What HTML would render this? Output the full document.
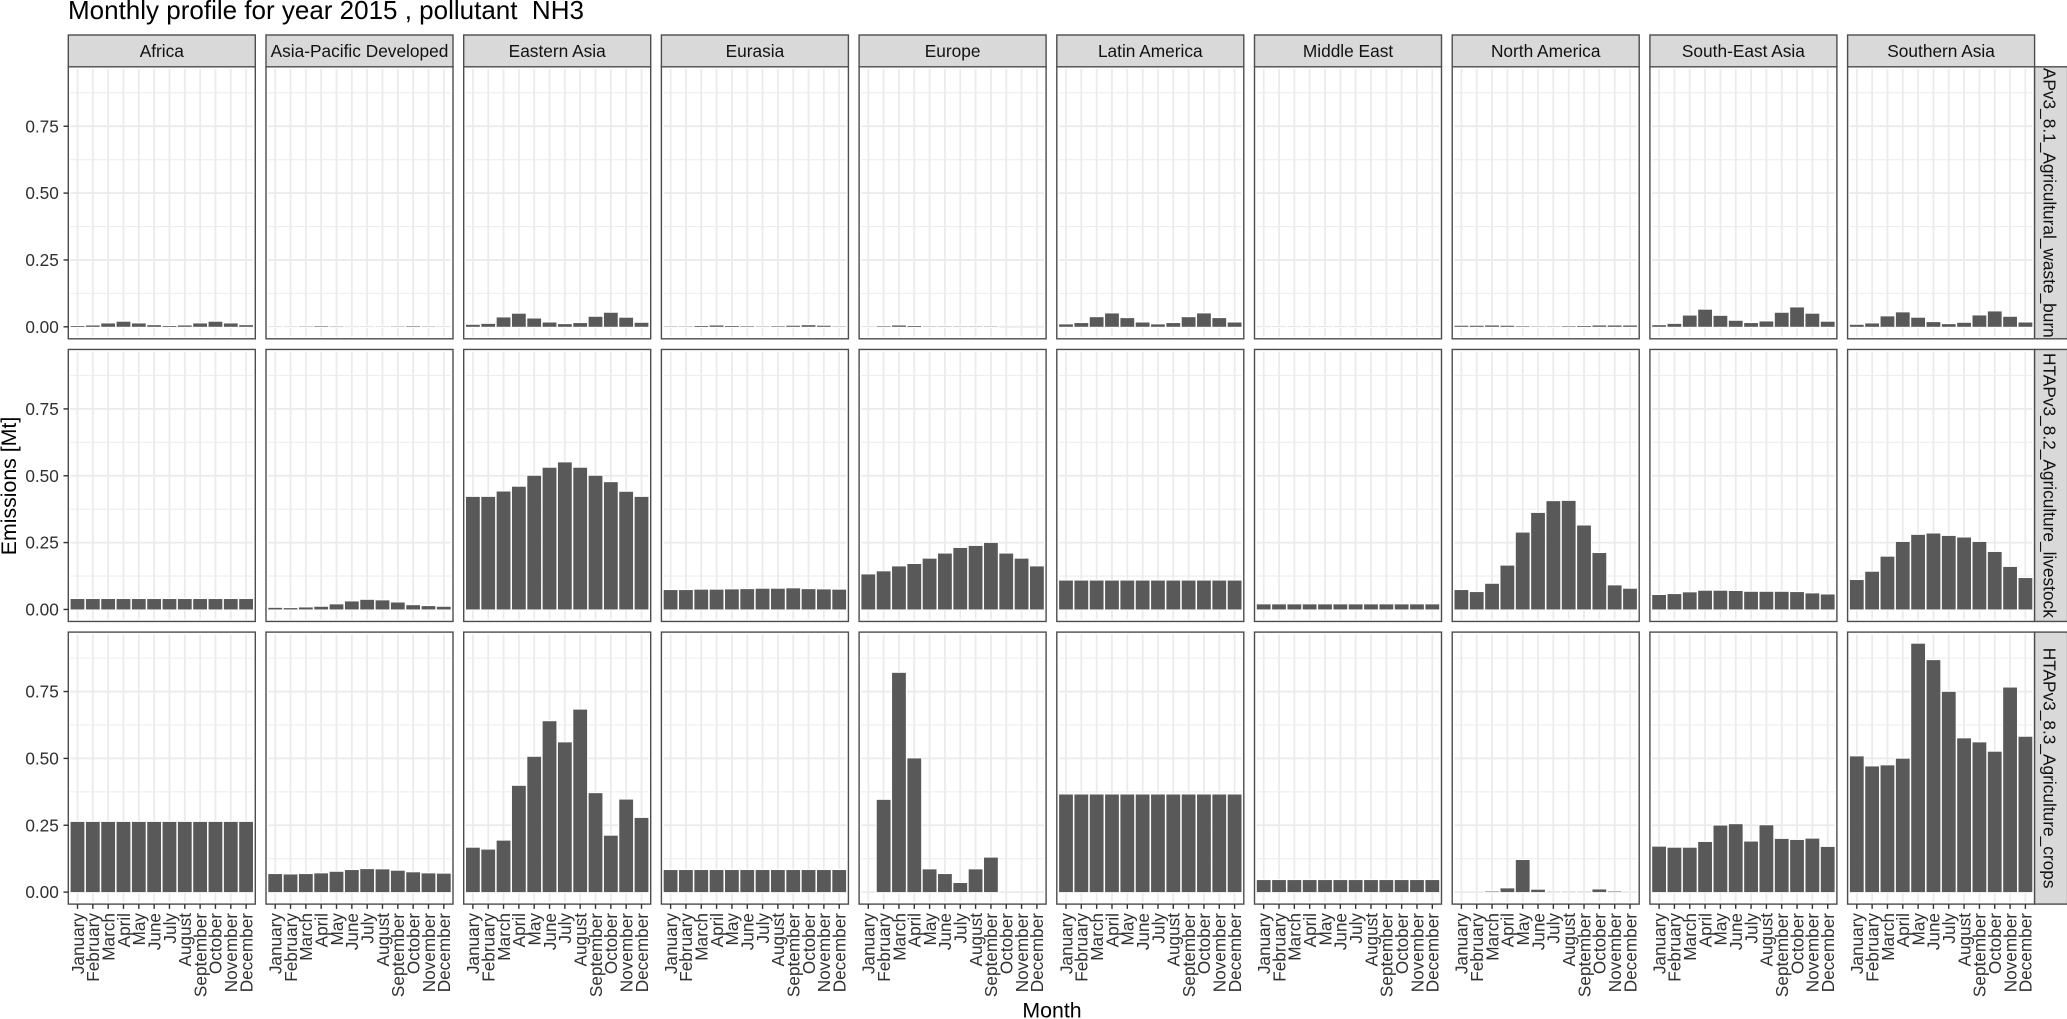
<!DOCTYPE html>
<html lang="en">
<head>
<meta charset="utf-8">
<title>Monthly profile for year 2015, pollutant NH3</title>
<style>
  html, body { margin: 0; padding: 0; background: #fff; }
  body { width: 2067px; height: 1019px; overflow: hidden; }
  svg { display: block; font-family: "Liberation Sans", sans-serif; }
  text { white-space: pre; }
</style>
</head>
<body>
<svg id="chart" xmlns="http://www.w3.org/2000/svg" width="2067" height="1019" viewBox="0 0 2067 1019">
  <rect x="0" y="0" width="2067" height="1019" fill="#ffffff"/>
  <text x="68" y="19" font-size="26" fill="#000000">Monthly profile for year 2015 , pollutant  NH3</text>
  <text transform="translate(16 486) rotate(-90)" text-anchor="middle" font-size="21.3" fill="#000000">Emissions [Mt]</text>
  <text x="1052" y="1017.5" text-anchor="middle" font-size="21.3" fill="#000000">Month</text>
  <g id="panels"></g>
</svg>
<script>
const months = ["January","February","March","April","May","June","July","August","September","October","November","December"];
const regions = ["Africa","Asia-Pacific Developed","Eastern Asia","Eurasia","Europe","Latin America","Middle East","North America","South-East Asia","Southern Asia"];
const sectors = ["APv3_8.1_Agricultural_waste_burn","HTAPv3_8.2_Agriculture_livestock","HTAPv3_8.3_Agriculture_crops"];
const yTickValues = [0, 0.25, 0.5, 0.75];
const yTickLabels = ["0.00","0.25","0.50","0.75"];
const yMinorValues = [0.125, 0.375, 0.625, 0.875];

const wasteBurn = [
  [.003,.005,.0125,.019,.0125,.006,.003,.005,.0125,.019,.0125,.006],
  [.0005,.0005,.001,.002,.001,.0005,.0005,.0005,.001,.002,.001,.0005],
  [.0075,.011,.035,.049,.031,.016,.01,.014,.0375,.0525,.034,.015],
  [.001,.001,.003,.005,.003,.002,.001,.002,.004,.006,.004,.001],
  [.0005,.002,.005,.003,.001,.001,.001,.001,.001,0,0,0],
  [.009,.014,.036,.05,.0325,.016,.009,.014,.036,.05,.0325,.016],
  [.0005,.0005,.0005,.0005,.0005,.0005,.0005,.0005,.0005,.0005,.0005,.0005],
  [.004,.004,.005,.004,.002,.001,.001,.002,.003,.005,.005,.005],
  [.006,.011,.042,.064,.041,.0225,.014,.02,.0525,.0725,.049,.019],
  [.0075,.0125,.039,.054,.034,.0175,.01,.015,.0425,.0575,.0375,.016]
];
const livestock = [
  [.039,.039,.039,.039,.039,.039,.039,.039,.039,.039,.039,.039],
  [.006,.005,.0075,.01,.019,.03,.036,.034,.026,.016,.0125,.01],
  [.421,.421,.441,.459,.5,.53,.55,.53,.5,.476,.44,.421],
  [.0725,.0725,.074,.074,.075,.076,.0775,.0775,.079,.076,.075,.074],
  [.131,.1425,.161,.17,.19,.209,.23,.2375,.249,.209,.19,.161],
  [.108,.108,.108,.108,.108,.108,.108,.108,.108,.108,.108,.108],
  [.019,.019,.019,.019,.019,.019,.019,.019,.019,.019,.019,.019],
  [.0725,.065,.096,.164,.2875,.361,.405,.406,.314,.211,.09,.0775],
  [.054,.0575,.064,.07,.07,.069,.066,.066,.066,.065,.06,.056],
  [.11,.141,.1975,.2525,.279,.284,.275,.269,.2525,.215,.159,.1175]
];
const crops = [
  [.2625,.2625,.2625,.2625,.2625,.2625,.2625,.2625,.2625,.2625,.2625,.2625],
  [.0675,.066,.0675,.07,.076,.0825,.086,.085,.08,.074,.07,.069],
  [.166,.159,.1925,.3975,.506,.639,.56,.6825,.37,.211,.346,.2775],
  [.0825,.0825,.0825,.0825,.0825,.0825,.0825,.0825,.0825,.0825,.0825,.0825],
  [0,.345,.82,.5,.085,.0675,.034,.085,.129,0,0,0],
  [.365,.365,.365,.365,.365,.365,.365,.365,.365,.365,.365,.365],
  [.045,.045,.045,.045,.045,.045,.045,.045,.045,.045,.045,.045],
  [0,0,.002,.014,.12,.009,.001,.001,.001,.01,.002,0],
  [.17,.166,.166,.1875,.249,.254,.189,.25,.199,.195,.2,.169],
  [.5075,.47,.474,.499,.929,.8675,.749,.575,.56,.525,.765,.581]
];
const sectorValues = [wasteBurn, livestock, crops];

const NS = "http://www.w3.org/2000/svg";
const root = document.getElementById("panels");
const PANEL_LEFT = 68.3, PANEL_PITCH_X = 197.7, PANEL_W = 187;
const PANEL_TOP = 66.8, PANEL_PITCH_Y = 282.65, PANEL_H = 272;
const ZERO_OFFSET = 260, UNITS_PER_PANEL_PX = 267.4;
const X_EXPAND = 0.6, BAR_WIDTH = 0.9;

function panelLeft(col) { return PANEL_LEFT + col * PANEL_PITCH_X; }
function panelTop(row) { return PANEL_TOP + row * PANEL_PITCH_Y; }
function xScale(index, col) {
  return panelLeft(col) + (index + X_EXPAND) * PANEL_W / (months.length - 1 + 2 * X_EXPAND);
}
function yScale(value, row) {
  return panelTop(row) + ZERO_OFFSET - value * UNITS_PER_PANEL_PX;
}
function make(tag, attrs, parent) {
  const el = document.createElementNS(NS, tag);
  for (const k in attrs) el.setAttribute(k, attrs[k]);
  parent.appendChild(el);
  return el;
}

sectors.forEach(function (sector, row) {
  const top = panelTop(row), bottom = top + PANEL_H;
  regions.forEach(function (region, col) {
    const left = panelLeft(col), right = left + PANEL_W;
    const slug = region.toLowerCase().replace(/[^a-z]+/g, "-") + "-row-" + (row + 1);

    const g = make("g", {}, root);
    
    

    const bg = make("rect", { x: left, y: top, width: PANEL_W, height: PANEL_H, fill: "#ffffff" }, g);
    
    

    yMinorValues.forEach(function (v) {
      const y = yScale(v, row);
      const line = make("line", { x1: left + 2.2, x2: right - 2.2, y1: y, y2: y, stroke: "#eeeeee", "stroke-width": 1.1 }, g);
      
      
    });
    yTickValues.forEach(function (v) {
      const y = yScale(v, row);
      const line = make("line", { x1: left + 2.2, x2: right - 2.2, y1: y, y2: y, stroke: "#ebebeb", "stroke-width": 1.8 }, g);
      
      
    });
    months.forEach(function (m, i) {
      const x = xScale(i, col);
      const line = make("line", { x1: x, x2: x, y1: top + 2.2, y2: bottom - 2.2, stroke: "#ebebeb", "stroke-width": 1.8 }, g);
      
      
    });

    const values = sectorValues[row][col];
    values.forEach(function (v, i) {
      if (v <= 0) return;
      const cx = xScale(i, col);
      const w = BAR_WIDTH * PANEL_W / (months.length - 1 + 2 * X_EXPAND);
      const y1 = yScale(v, row), y0 = yScale(0, row);
      const bar = make("rect", {
        x: cx - w / 2, y: y1, width: w, height: y0 - y1,
        fill: "#595959", stroke: "#ffffff", "stroke-width": 2.2,
        "stroke-opacity": 0.9, "paint-order": "stroke"
      }, g);
      
      
    });

    const border = make("rect", { x: left, y: top, width: PANEL_W, height: PANEL_H, fill: "none", stroke: "#4d4d4d", "stroke-width": 1.4 }, g);
    
    

    if (row === 0) {
      const strip = make("rect", { x: left, y: 35, width: PANEL_W, height: 31.8, fill: "#d9d9d9", stroke: "#4d4d4d", "stroke-width": 1.4 }, g);
      
      
      const label = make("text", { x: left + PANEL_W / 2, y: 57, "text-anchor": "middle", "font-size": 17.3, fill: "#111111" }, g);
      label.textContent = region;
      
      
    }

    if (col === regions.length - 1) {
      const strip = make("rect", { x: right, y: top, width: 33, height: PANEL_H, fill: "#d9d9d9", stroke: "#4d4d4d", "stroke-width": 1.4 }, g);
      
      
      const label = make("text", {
        transform: "translate(2043.5 " + (top + PANEL_H / 2) + ") rotate(90)",
        "text-anchor": "middle", "font-size": 17.3, fill: "#111111"
      }, g);
      label.textContent = sector;
      
      
    }

    if (col === 0) {
      yTickValues.forEach(function (v, k) {
        const y = yScale(v, row);
        const tick = make("line", { x1: left - 4.8, x2: left, y1: y, y2: y, stroke: "#333333", "stroke-width": 1.4 }, g);
        
        
        const label = make("text", { x: 58.8, y: y + 6, "text-anchor": "end", "font-size": 17.2, fill: "#303030" }, g);
        label.textContent = yTickLabels[k];
        
        
      });
    }

    if (row === sectors.length - 1) {
      months.forEach(function (m, i) {
        const x = xScale(i, col);
        const tick = make("line", { x1: x, x2: x, y1: bottom, y2: bottom + 4.8, stroke: "#333333", "stroke-width": 1.4 }, g);
        
        
        const label = make("text", {
          transform: "translate(" + (x + 6.3) + " 913) rotate(-90)",
          "text-anchor": "end", "font-size": 17.2, fill: "#303030"
        }, g);
        label.textContent = m;
        
        
      });
    }
  });
});
</script>
</body>
</html>
